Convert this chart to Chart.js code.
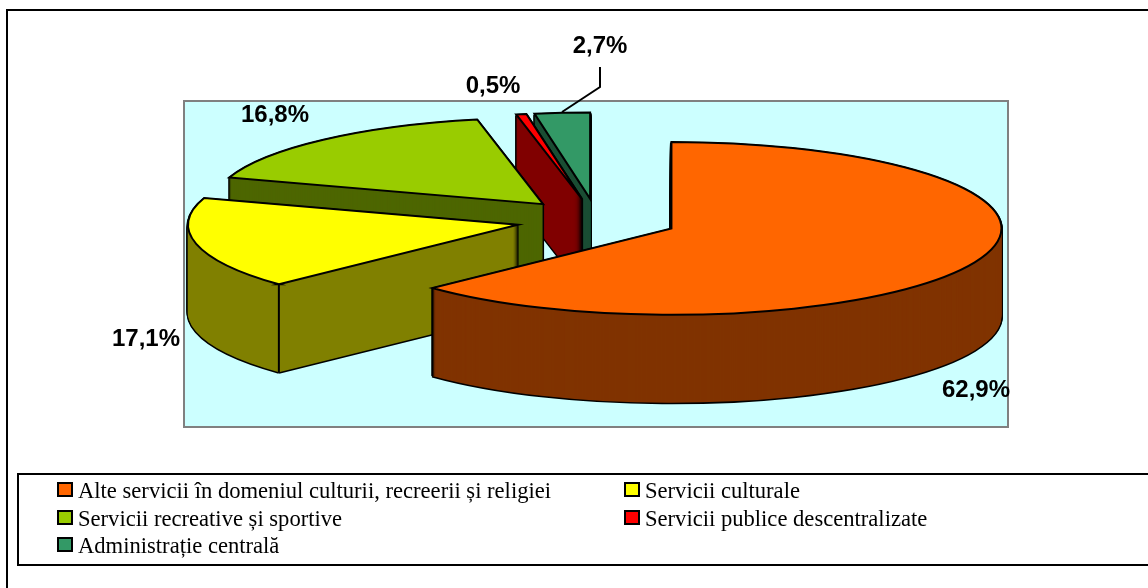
<!DOCTYPE html>
<html>
<head>
<meta charset="utf-8">
<style>
  html, body { margin: 0; padding: 0; background: #fff; overflow: hidden; }
  canvas { display: block; }
</style>
<script src="https://cdn.jsdelivr.net/npm/chart.js@4"></script>
</head>
<body>
<canvas id="grafic" width="1148" height="588"></canvas>
<script>
const categorii = [
    'Alte servicii în domeniul culturii, recreerii și religiei',
    'Servicii culturale',
    'Servicii recreative și sportive',
    'Servicii publice descentralizate',
    'Administrație centrală'
];
const valori = [62.9, 17.1, 16.8, 0.5, 2.7];
const culori = ['#FF6600', '#FFFF00', '#99CC00', '#FF0000', '#339966'];
const culoriLaterale = ['#803300', '#808000', '#4D6600', '#800000', '#1A4D33'];

// ===== geometrie 3D =====
const RAZA = 330;
const TURTIRE = 0.262;     // cat de turtita e elipsa
const EXPLODARE = 81;
const ADANCIME = 88;
const CENTRU_Y = 220;

// pozitia etichetelor (centru text), in ordinea categoriilor
const pozEtichete = [[976, 390], [146, 339], [275, 115], [493, 86], [600, 46]];
// pozitia elementelor din legenda
const pozLegenda = [[58, 498], [625, 498], [58, 526], [625, 526], [58, 553]];

function deseneazaArc(ctx, arc, stil) {
    const original = arc.options;
    arc.options = Object.assign({}, original, stil);
    arc.draw(ctx);
    arc.options = original;
}

// aplica transformarea elipsei, dar conturul ramane cu grosime uniforma
function cuTransformare(ctx, arc, d, fn) {
    const jum = (arc.startAngle + arc.endAngle) / 2;
    ctx.save();
    ctx.setTransform(1, 0, 0, TURTIRE, 1, CENTRU_Y - TURTIRE * arc.y + d);
    ctx.translate(Math.cos(jum) * EXPLODARE, Math.sin(jum) * EXPLODARE);
    const strokeOriginal = ctx.stroke;
    ctx.stroke = function () {
        this.save();
        this.setTransform(1, 0, 0, 1, 0, 0);
        strokeOriginal.call(this);
        this.restore();
    };
    fn();
    delete ctx.stroke;
    ctx.restore();
}

function muchieVerticala(ctx, arc, unghi) {
    if (Math.sin(unghi) <= 0) return; // muchiile din spate nu se vad
    const jum = (arc.startAngle + arc.endAngle) / 2;
    const x = 1 + arc.x + Math.cos(jum) * EXPLODARE + Math.cos(unghi) * RAZA;
    const y = CENTRU_Y + TURTIRE * (Math.sin(jum) * EXPLODARE + Math.sin(unghi) * RAZA);
    ctx.save();
    ctx.strokeStyle = '#000';
    ctx.lineWidth = 2;
    ctx.beginPath();
    ctx.moveTo(x, y);
    ctx.lineTo(x, y + ADANCIME);
    ctx.stroke();
    ctx.restore();
}

const pie3d = {
    id: 'pie3d',
    beforeDraw(chart) {
        const { ctx, chartArea: a } = chart;
        ctx.save();
        ctx.fillStyle = '#fff';
        ctx.fillRect(0, 0, chart.width, chart.height);
        ctx.strokeStyle = '#000';
        ctx.lineWidth = 2;
        ctx.strokeRect(7, 10, 1200, 700);
        ctx.fillStyle = '#CCFFFF';
        ctx.fillRect(a.left, a.top, a.width, a.height);
        ctx.strokeStyle = '#808080';
        ctx.lineWidth = 2;
        ctx.strokeRect(a.left, a.top, a.width, a.height);
        ctx.restore();
    },
    beforeDatasetDraw(chart, args) {
        const ctx = chart.ctx;
        const arce = args.meta.data.map((arc, i) => ({ arc, i }));
        // din spate in fata
        arce.sort((p, q) => {
            const yp = Math.sin((p.arc.startAngle + p.arc.endAngle) / 2);
            const yq = Math.sin((q.arc.startAngle + q.arc.endAngle) / 2);
            return yp - yq;
        });
        arce.forEach(({ arc, i }) => {
            // silueta neagra a peretelui
            for (let d = ADANCIME; d > 0; d--) {
                cuTransformare(ctx, arc, d, () => deseneazaArc(ctx, arc, {
                    backgroundColor: '#000', borderColor: '#000', borderWidth: 3
                }));
            }
            for (let d = ADANCIME; d > 0; d--) {
                cuTransformare(ctx, arc, d, () => deseneazaArc(ctx, arc, {
                    backgroundColor: culoriLaterale[i], borderWidth: 0
                }));
            }
            muchieVerticala(ctx, arc, arc.startAngle);
            muchieVerticala(ctx, arc, arc.endAngle);
            cuTransformare(ctx, arc, 0, () => deseneazaArc(ctx, arc, {
                backgroundColor: culori[i], borderColor: '#000', borderWidth: 2, borderJoinStyle: 'miter'
            }));
        });
        return false;
    },
    afterDraw(chart) {
        const ctx = chart.ctx;
        ctx.save();

        // linia de legatura pentru 2,7%
        ctx.strokeStyle = '#000';
        ctx.lineWidth = 2;
        ctx.beginPath();
        ctx.moveTo(600, 67);
        ctx.lineTo(600, 87);
        ctx.lineTo(562, 112);
        ctx.stroke();

        // etichete valori
        ctx.fillStyle = '#000';
        ctx.font = 'bold 24px "Liberation Sans"';
        ctx.textAlign = 'center';
        ctx.textBaseline = 'middle';
        valori.forEach((v, i) => {
            const [x, y] = pozEtichete[i];
            ctx.fillText(v.toFixed(1).replace('.', ',') + '%', x, y);
        });

        // legenda
        ctx.fillStyle = '#fff';
        ctx.fillRect(18, 474, 1200, 91);
        ctx.strokeStyle = '#000';
        ctx.lineWidth = 2;
        ctx.strokeRect(18, 474, 1200, 91);
        ctx.font = '22.6px "Liberation Serif"';
        ctx.textAlign = 'left';
        ctx.textBaseline = 'alphabetic';
        categorii.forEach((nume, i) => {
            const [x, y] = pozLegenda[i];
            ctx.fillStyle = culori[i];
            ctx.fillRect(x, y - 15, 14, 13);
            ctx.strokeStyle = '#000';
            ctx.lineWidth = 2;
            ctx.strokeRect(x, y - 15, 14, 13);
            ctx.fillStyle = '#000';
            ctx.fillText(nume, x + 20, y);
        });
        ctx.restore();
    }
};

new Chart(document.getElementById('grafic'), {
    type: 'pie',
    data: {
        labels: categorii,
        datasets: [{ data: valori, backgroundColor: culori, borderWidth: 0 }]
    },
    options: {
        responsive: false,
        animation: false,
        radius: RAZA,
        layout: { padding: { left: 184, top: 101, right: 140, bottom: 161 } },
        plugins: { legend: { display: false }, tooltip: { enabled: false } }
    },
    plugins: [pie3d]
});
</script>
</body>
</html>
